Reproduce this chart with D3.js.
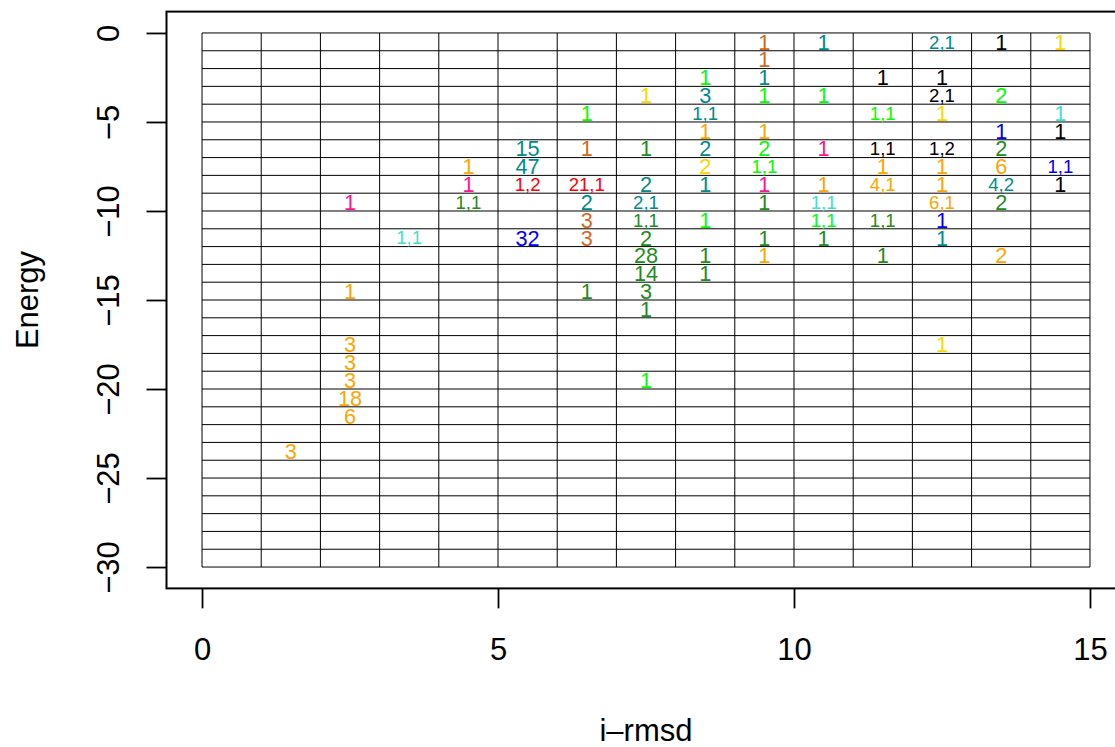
<!DOCTYPE html>
<html>
<head>
<meta charset="utf-8">
<script src="https://cdn.jsdelivr.net/npm/d3@7"></script>
<style>
  html, body { margin: 0; padding: 0; background: #fff; }
  svg { display: block; }
  text { font-family: "Liberation Sans", Arial, Helvetica, sans-serif; }
</style>
</head>
<body>
<svg id="chart" width="1115" height="747"></svg>
<script>
// ---- data ----
const xTicks = [0, 5, 10, 15];
const yTicks = [0, -5, -10, -15, -20, -25, -30];
const xGrid = d3.range(0, 16, 1);      // i-rmsd bin edges 0..15
const yGrid = d3.range(0, -31, -1);    // energy bin edges 0..-30

// label positions (bin centres), texts and colours
const pointX = [
  1.5,
  2.5, 2.5, 2.5, 2.5, 2.5, 2.5, 2.5,
  3.5,
  4.5, 4.5, 4.5,
  5.5, 5.5, 5.5, 5.5,
  6.5, 6.5, 6.5, 6.5, 6.5, 6.5, 6.5,
  7.5, 7.5, 7.5, 7.5, 7.5, 7.5, 7.5, 7.5, 7.5, 7.5, 7.5,
  8.5, 8.5, 8.5, 8.5, 8.5, 8.5, 8.5, 8.5, 8.5, 8.5,
  9.5, 9.5, 9.5, 9.5, 9.5, 9.5, 9.5, 9.5, 9.5, 9.5, 9.5,
  10.5, 10.5, 10.5, 10.5, 10.5, 10.5, 10.5,
  11.5, 11.5, 11.5, 11.5, 11.5, 11.5, 11.5,
  12.5, 12.5, 12.5, 12.5, 12.5, 12.5, 12.5, 12.5, 12.5, 12.5, 12.5,
  13.5, 13.5, 13.5, 13.5, 13.5, 13.5, 13.5, 13.5,
  14.5, 14.5, 14.5, 14.5, 14.5
];
const pointY = [
  -23.5,
  -9.5, -14.5, -17.5, -18.5, -19.5, -20.5, -21.5,
  -11.5,
  -7.5, -8.5, -9.5,
  -6.5, -7.5, -8.5, -11.5,
  -4.5, -6.5, -8.5, -9.5, -10.5, -11.5, -14.5,
  -3.5, -6.5, -8.5, -9.5, -10.5, -11.5, -12.5, -13.5, -14.5, -15.5, -19.5,
  -2.5, -3.5, -4.5, -5.5, -6.5, -7.5, -8.5, -10.5, -12.5, -13.5,
  -0.5, -1.5, -2.5, -3.5, -5.5, -6.5, -7.5, -8.5, -9.5, -11.5, -12.5,
  -0.5, -3.5, -6.5, -8.5, -9.5, -10.5, -11.5,
  -2.5, -4.5, -6.5, -7.5, -8.5, -10.5, -12.5,
  -0.5, -2.5, -3.5, -4.5, -6.5, -7.5, -8.5, -9.5, -10.5, -11.5, -17.5,
  -0.5, -3.5, -5.5, -6.5, -7.5, -8.5, -9.5, -12.5,
  -0.5, -4.5, -5.5, -7.5, -8.5
];
const pointLabel = [
  "3",
  "1", "1", "3", "3", "3", "18", "6",
  "1,1",
  "1", "1", "1,1",
  "15", "47", "1,2", "32",
  "1", "1", "21,1", "2", "3", "3", "1",
  "1", "1", "2", "2,1", "1,1", "2", "28", "14", "3", "1", "1",
  "1", "3", "1,1", "1", "2", "2", "1", "1", "1", "1",
  "1", "1", "1", "1", "1", "2", "1,1", "1", "1", "1", "1",
  "1", "1", "1", "1", "1,1", "1,1", "1",
  "1", "1,1", "1,1", "1", "4,1", "1,1", "1",
  "2,1", "1", "2,1", "1", "1,2", "1", "1", "6,1", "1", "1", "1",
  "1", "2", "1", "2", "6", "4,2", "2", "2",
  "1", "1", "1", "1,1", "1"
];
const pointColor = [
  "orange",
  "deeppink", "orange", "orange", "orange", "orange", "orange", "orange",
  "turquoise",
  "orange", "deeppink", "forestgreen",
  "darkcyan", "darkcyan", "red", "blue",
  "green", "chocolate", "red", "darkcyan", "chocolate", "chocolate", "forestgreen",
  "gold", "forestgreen", "darkcyan", "darkcyan", "forestgreen", "forestgreen", "forestgreen", "forestgreen", "forestgreen", "forestgreen", "green",
  "green", "darkcyan", "darkcyan", "orange", "darkcyan", "gold", "darkcyan", "green", "forestgreen", "forestgreen",
  "chocolate", "chocolate", "darkcyan", "green", "orange", "green", "green", "deeppink", "forestgreen", "forestgreen", "orange",
  "darkcyan", "green", "deeppink", "orange", "turquoise", "green", "forestgreen",
  "black", "green", "black", "orange", "orange", "forestgreen", "forestgreen",
  "darkcyan", "black", "black", "gold", "black", "orange", "orange", "orange", "blue", "darkcyan", "gold",
  "black", "green", "blue", "forestgreen", "orange", "darkcyan", "forestgreen", "orange",
  "gold", "turquoise", "black", "blue", "black"
];
const palette = {
  orange: "#FFA500", gold: "#FFD700", chocolate: "#D2691E", darkcyan: "#008B8B",
  green: "#00FF00", forestgreen: "#228B22", deeppink: "#FF1493", turquoise: "#40E0D0",
  red: "#FF0000", blue: "#0000FF", black: "#000000"
};

// ---- layout ----
const svg = d3.select("#chart");
const x = d3.scaleLinear().domain([-0.6, 15.6]).range([166.5, 1125.5]);
const y = d3.scaleLinear().domain([-31.2, 1.2]).range([588.4, 11.6]);
const axisFont = 31;

// grid
const g = svg.append("g");
g.selectAll("line.h").data(yGrid).join("line")
  .attr("x1", x(0)).attr("x2", x(15))
  .attr("y1", d => y(d)).attr("y2", d => y(d))
  .attr("stroke", "#000").attr("stroke-width", 1);
g.selectAll("line.v").data(xGrid).join("line")
  .attr("x1", d => x(d)).attr("x2", d => x(d))
  .attr("y1", y(0)).attr("y2", y(-30))
  .attr("stroke", "#000").attr("stroke-width", 1);

// labels
const pts = pointX.map((d, i) => ({x: d, y: pointY[i], t: pointLabel[i], c: pointColor[i]}));
svg.append("g").selectAll("text").data(pts).join("text")
  .attr("x", d => x(d.x))
  .attr("y", d => y(d.y))
  .attr("dy", "0.36em")
  .attr("text-anchor", "middle")
  .attr("font-size", d => d.t.includes(",") ? 18.6 : 21.7)
  .attr("fill", d => palette[d.c])
  .text(d => d.t);

// box
svg.append("rect")
  .attr("x", x(-0.6)).attr("y", y(1.2))
  .attr("width", x(15.6) - x(-0.6)).attr("height", y(-31.2) - y(1.2))
  .attr("fill", "none").attr("stroke", "#000").attr("stroke-width", 2);

// x axis
const xa = svg.append("g").attr("transform", `translate(0,${y(-31.2)})`)
  .call(d3.axisBottom(x).tickValues(xTicks).tickSize(20).tickPadding(29.5).tickFormat(d3.format("d")));
xa.select(".domain").remove();
xa.selectAll(".tick line").attr("stroke", "#000").attr("stroke-width", 1.8);
xa.selectAll(".tick text").attr("font-size", axisFont).attr("fill", "#000")
  .style("font-family", '"Liberation Sans", Arial, sans-serif');

// y axis
const ya = svg.append("g").attr("transform", `translate(${x(-0.6)},0)`)
  .call(d3.axisLeft(y).tickValues(yTicks).tickSize(20).tickFormat(d => d3.format("d")(d).replace("-", "\u2212")));
ya.select(".domain").remove();
ya.selectAll(".tick line").attr("stroke", "#000").attr("stroke-width", 1.8);
ya.selectAll(".tick text")
  .attr("transform", "rotate(-90)")
  .attr("x", 0).attr("y", -48).attr("dy", 0)
  .attr("text-anchor", "middle")
  .attr("font-size", axisFont).attr("fill", "#000")
  .style("font-family", '"Liberation Sans", Arial, sans-serif');

// titles
svg.append("text")
  .attr("x", (x(-0.6) + x(15.6)) / 2).attr("y", 741)
  .attr("text-anchor", "middle").attr("font-size", axisFont)
  .text("i\u2013rmsd");
svg.append("text")
  .attr("transform", `translate(38,${(y(1.2) + y(-31.2)) / 2}) rotate(-90)`)
  .attr("text-anchor", "middle").attr("font-size", axisFont)
  .text("Energy");
</script>
</body>
</html>
